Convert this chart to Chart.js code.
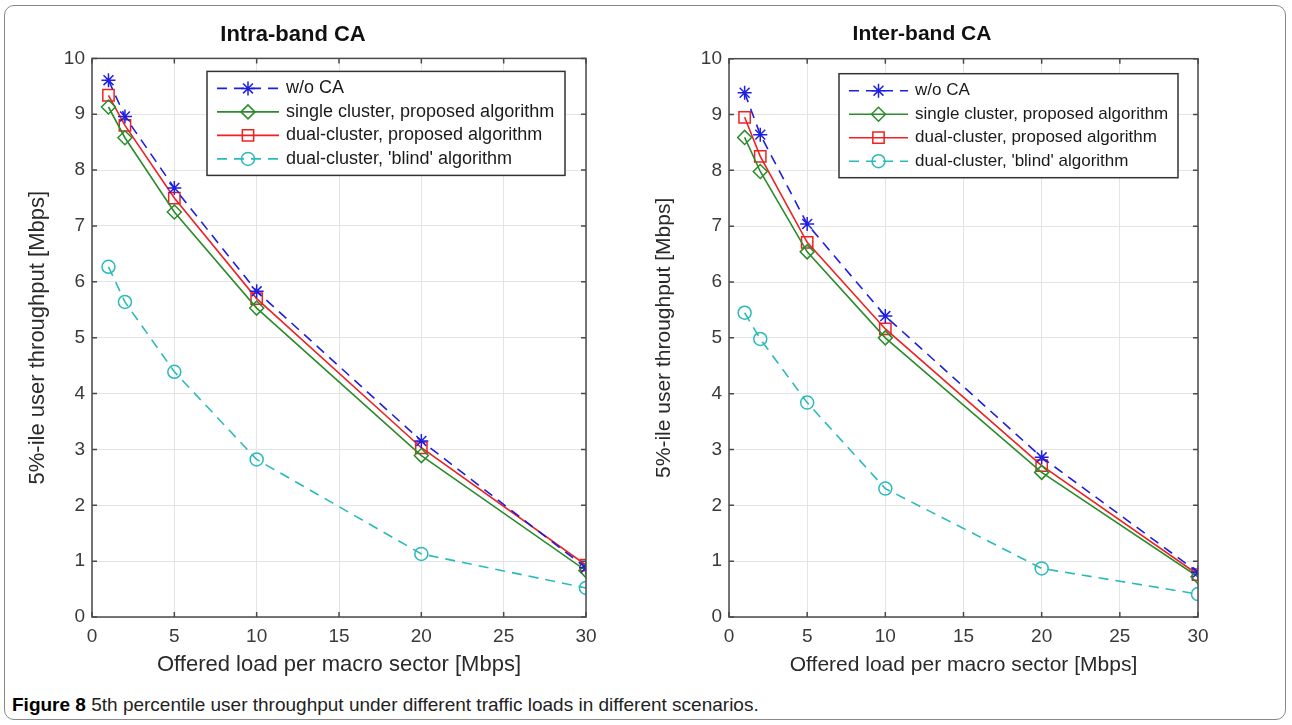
<!DOCTYPE html>
<html>
<head>
<meta charset="utf-8">
<script src="https://cdn.jsdelivr.net/npm/chart.js@4.4.1/dist/chart.umd.min.js"></script>
<style>
  body { margin: 0; background: #fff; width: 1292px; height: 725px; overflow: hidden; position: relative; font-family: "Liberation Sans", Arial, sans-serif; }
  #frame { position: absolute; left: 4px; top: 5px; width: 1282px; height: 715px; border: 1px solid #888; border-radius: 10px; box-sizing: border-box; }
  .box { position: absolute; top: 0; width: 646px; height: 690px; }
  #leftBox { left: 0; }
  #rightBox { left: 646px; }
  #caption { position: absolute; left: 12px; top: 694px; font-family: "Liberation Sans Narrow", "Liberation Sans", sans-serif; font-size: 19px; color: #222; white-space: nowrap; }
  #caption b { color: #000; }
</style>
</head>
<body>
<div id="frame"></div>
<div class="box" id="leftBox"><canvas id="intraChart"></canvas></div>
<div class="box" id="rightBox"><canvas id="interChart"></canvas></div>
<div id="caption"><b>Figure 8</b> 5th percentile user throughput under different traffic loads in different scenarios.</div>

<script>
// offered load per macro sector [Mbps]
const loads = [1, 2, 5, 10, 20, 30];
const xTickValues = [0, 5, 10, 15, 20, 25, 30];
const yTickValues = [0, 1, 2, 3, 4, 5, 6, 7, 8, 9, 10];

const seriesNames = [
    'w/o CA',
    'single cluster, proposed algorithm',
    'dual-cluster, proposed algorithm',
    "dual-cluster, 'blind' algorithm"
];

// Intra-band CA
const intraNoCA   = [9.61, 8.96, 7.68, 5.83, 3.15, 0.88];
const intraSingle = [9.13, 8.58, 7.25, 5.53, 2.89, 0.83];
const intraDual   = [9.34, 8.80, 7.50, 5.70, 3.03, 0.93];
const intraBlind  = [6.27, 5.64, 4.39, 2.82, 1.13, 0.52];

// Inter-band CA
const interNoCA   = [9.39, 8.64, 7.04, 5.39, 2.86, 0.80];
const interSingle = [8.59, 7.98, 6.54, 5.00, 2.59, 0.72];
const interDual   = [8.95, 8.25, 6.71, 5.16, 2.71, 0.76];
const interBlind  = [5.45, 4.98, 3.84, 2.30, 0.87, 0.41];

const styles = [
    { color: '#1f1fe0', dash: [10, 7], point: 'star', radius: 7 },
    { color: '#2a8c2a', dash: [], point: 'rectRot', radius: 7 },
    { color: '#ee2222', dash: [], point: 'rect', radius: 8 },
    { color: '#2bbaba', dash: [10, 7], point: 'circle', radius: 6.5 }
];

const FONT = '"Liberation Sans", Arial, sans-serif';

function makeDatasets(seriesList) {
    return seriesList.map((vals, i) => ({
        label: seriesNames[i],
        data: loads.map((x, j) => ({ x: x, y: vals[j] })),
        borderColor: styles[i].color,
        borderDash: styles[i].dash,
        borderWidth: 1.6,
        pointStyle: styles[i].point,
        pointRadius: styles[i].radius,
        pointBorderColor: styles[i].color,
        pointBackgroundColor: 'rgba(0,0,0,0)',
        pointBorderWidth: 1.5,
        tension: 0
    }));
}

// axes box with inward tick marks, like the original plots
const boxPlugin = {
    id: 'axesBox',
    afterDatasetsDraw(chart) {
        const { ctx, chartArea: a, scales } = chart;
        ctx.save();
        ctx.strokeStyle = '#4a4a4a';
        ctx.lineWidth = 1.5;
        ctx.setLineDash([]);
        ctx.strokeRect(a.left, a.top, a.right - a.left, a.bottom - a.top);
        ctx.beginPath();
        xTickValues.forEach(v => {
            const px = scales.x.getPixelForValue(v);
            ctx.moveTo(px, a.bottom); ctx.lineTo(px, a.bottom - 5);
            ctx.moveTo(px, a.top); ctx.lineTo(px, a.top + 5);
        });
        yTickValues.forEach(v => {
            const py = scales.y.getPixelForValue(v);
            ctx.moveTo(a.left, py); ctx.lineTo(a.left + 5, py);
            ctx.moveTo(a.right, py); ctx.lineTo(a.right - 5, py);
        });
        ctx.stroke();
        ctx.restore();
    }
};

// legend drawn inside the plot, line + marker samples
const legendPlugin = {
    id: 'insideLegend',
    afterDatasetsDraw(chart, args, opts) {
        const { ctx, chartArea: a } = chart;
        const left = a.left + opts.dx, top = a.top + opts.dy;
        ctx.save();
        ctx.fillStyle = '#fff';
        ctx.fillRect(left, top, opts.w, opts.h);
        ctx.strokeStyle = '#333';
        ctx.lineWidth = 1.5;
        ctx.strokeRect(left, top, opts.w, opts.h);
        ctx.font = opts.fontSize + 'px ' + FONT;
        ctx.textBaseline = 'middle';
        chart.data.datasets.forEach((ds, i) => {
            const y = top + opts.firstRow + i * opts.rowGap;
            const x0 = left + 10, x1 = x0 + opts.lineLen;
            ctx.strokeStyle = ds.borderColor;
            ctx.lineWidth = ds.borderWidth;
            ctx.setLineDash(ds.borderDash);
            ctx.beginPath();
            ctx.moveTo(x0, y); ctx.lineTo(x1, y);
            ctx.stroke();
            ctx.setLineDash([]);
            ctx.fillStyle = 'rgba(0,0,0,0)';
            ctx.lineWidth = ds.pointBorderWidth;
            Chart.helpers.drawPoint(ctx, { pointStyle: ds.pointStyle, radius: ds.pointRadius, rotation: 0, borderWidth: ds.pointBorderWidth }, (x0 + x1) / 2, y);
            ctx.fillStyle = '#1a1a1a';
            ctx.fillText(ds.label, x1 + 7, y);
        });
        ctx.restore();
    }
};

function makeChart(id, title, seriesList, g) {
    const ctx = document.getElementById(id).getContext('2d');
    return new Chart(ctx, {
        type: 'line',
        data: { datasets: makeDatasets(seriesList) },
        options: {
            responsive: true,
            maintainAspectRatio: false,
            animation: false,
            layout: { padding: { left: 0, right: g.padRight, top: 0, bottom: 0 } },
            plugins: {
                legend: { display: false },
                tooltip: { enabled: false },
                title: {
                    display: true,
                    text: title,
                    color: '#111',
                    font: { size: g.titleSize, weight: 'bold', family: FONT },
                    padding: { top: 22, bottom: g.titleGap }
                },
                insideLegend: g.legend
            },
            scales: {
                x: {
                    type: 'linear',
                    min: 0,
                    max: 30,
                    afterBuildTicks: s => { s.ticks = xTickValues.map(v => ({ value: v })); },
                    afterFit: s => { s.height = 73; },
                    grid: { color: '#e4e4e4', drawTicks: false },
                    border: { display: false },
                    ticks: { color: '#3a3a3a', padding: 8, font: { size: 19, family: FONT } },
                    title: {
                        display: true,
                        text: 'Offered load per macro sector [Mbps]',
                        color: '#2a2a2a',
                        padding: { top: 0, bottom: 12 },
                        font: { size: g.axisTitleSize, family: FONT }
                    }
                },
                y: {
                    min: 0,
                    max: 10,
                    afterBuildTicks: s => { s.ticks = yTickValues.map(v => ({ value: v })); },
                    afterFit: s => { s.width = g.yWidth; },
                    grid: { color: '#e4e4e4', drawTicks: false },
                    border: { display: false },
                    ticks: { color: '#3a3a3a', padding: 7, font: { size: 19, family: FONT } },
                    title: {
                        display: true,
                        text: '5%-ile user throughput [Mbps]',
                        color: '#2a2a2a',
                        padding: { top: g.yTitlePad, bottom: 0 },
                        font: { size: g.axisTitleSize, family: FONT }
                    }
                }
            }
        },
        plugins: [boxPlugin, legendPlugin]
    });
}

makeChart('intraChart', 'Intra-band CA', [intraNoCA, intraSingle, intraDual, intraBlind], {
    padRight: 60, yWidth: 92, yTitlePad: 25, titleSize: 22, titleGap: 10, axisTitleSize: 22,
    legend: { dx: 115, dy: 13, w: 358, h: 104, firstRow: 17, rowGap: 23.5, lineLen: 62, fontSize: 18 }
});

makeChart('interChart', 'Inter-band CA', [interNoCA, interSingle, interDual, interBlind], {
    padRight: 94, yWidth: 83, yTitlePad: 6, titleSize: 21, titleGap: 11.5, axisTitleSize: 21,
    legend: { dx: 110, dy: 15, w: 339, h: 104, firstRow: 17, rowGap: 23.5, lineLen: 59, fontSize: 17 }
});
</script>
</body>
</html>
